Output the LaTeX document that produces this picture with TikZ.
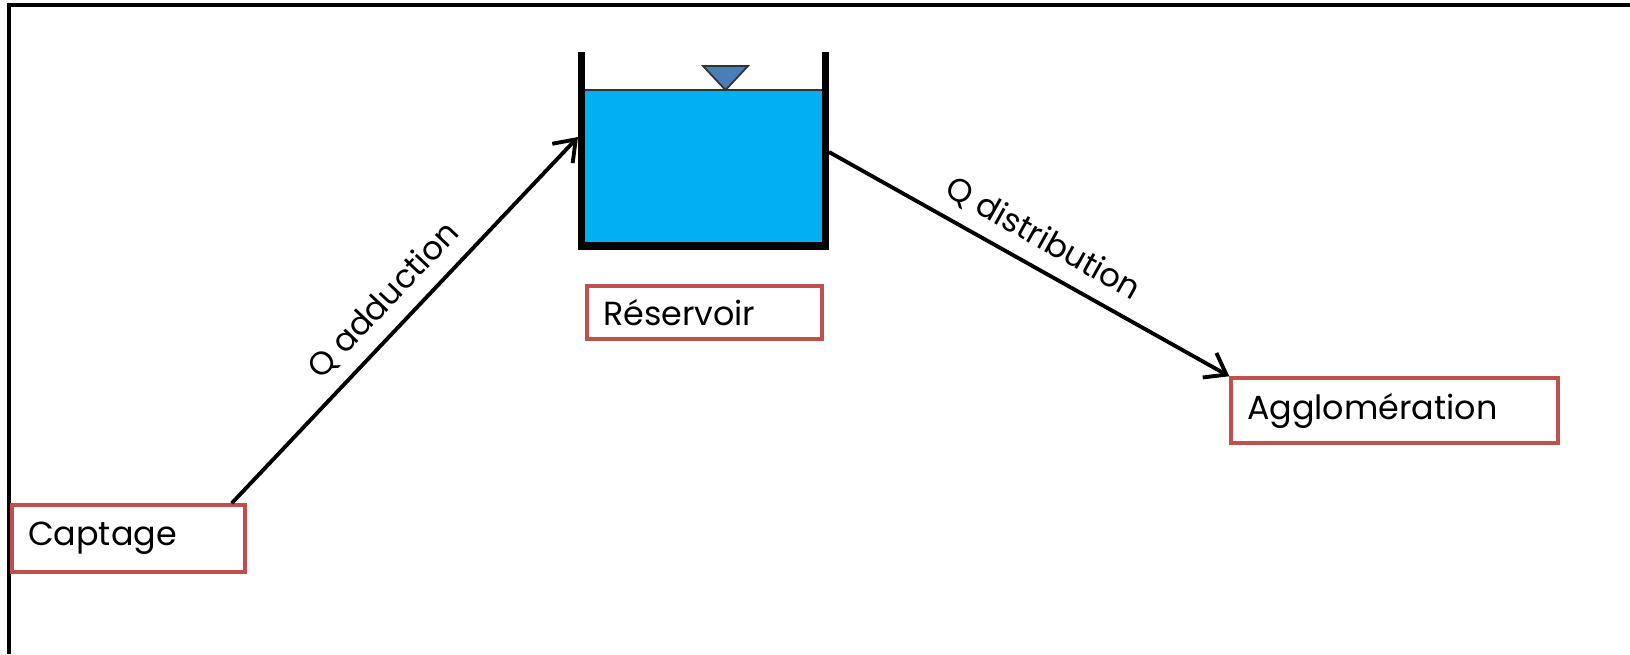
\documentclass[tikz,border=0pt]{standalone}
\usepackage{fontspec}
\setmainfont{Poppins}
\usepackage{tikz}
\usetikzlibrary{arrows.meta,positioning,calc}
\definecolor{boxred}{HTML}{C0504D}
\definecolor{water}{HTML}{00B0F0}
\definecolor{level}{HTML}{4A7EBB}
\tikzstyle{placebox}=[draw=boxred,line width=2pt,inner xsep=0.32cm,align=left,font=\fontsize{19}{22}\selectfont]
\tikzstyle{flow}=[line width=2.2pt,-{Straight Barb[length=11pt,width=16pt,line width=2.2pt]}]
\tikzstyle{flowlabel}=[midway,sloped,above,inner sep=7pt,font=\fontsize{18.5}{22}\selectfont]

\begin{document}
\begin{tikzpicture}[x=0.02cm,y=-0.02cm]
    \useasboundingbox (0,0) rectangle (1630,654);
    % frame
    \draw[line width=2.5pt] (9,654) -- (9,5) -- (1630,5);
    % tank
    \fill[water] (585,90) rectangle (822,243);
    \draw[line width=1pt,black!80] (585,90) -- (822,90);
    \draw[level,fill=level,draw=black!80,line width=1pt] (703,66) -- (748,66) -- (725.5,90) -- cycle;
    \draw[line width=4.5pt] (581.5,52) -- (581.5,246) -- (825.5,246) -- (825.5,52);
    \coordinate (tankin) at (578,137);
    \coordinate (tankout) at (829,152);
    % places
    \node [placebox,text width=4.02cm,minimum height=1.34cm] (capt) at (128.5,538.5) {Captage};
    \node [placebox,text width=4.06cm,minimum height=1.06cm] (res) at (704.5,312.5) {Réservoir};
    \node [placebox,text width=5.9cm,minimum height=1.3cm] (aggl) at (1394.5,410.5) {Agglomération};
    % flows
    \draw [flow] ($(capt.north east)+(-15,0)$) -- node [flowlabel] {Q adduction} (tankin);
    \draw [flow] (tankout) -- node [flowlabel] {Q distribution} (aggl.north west);
\end{tikzpicture}
\end{document}
